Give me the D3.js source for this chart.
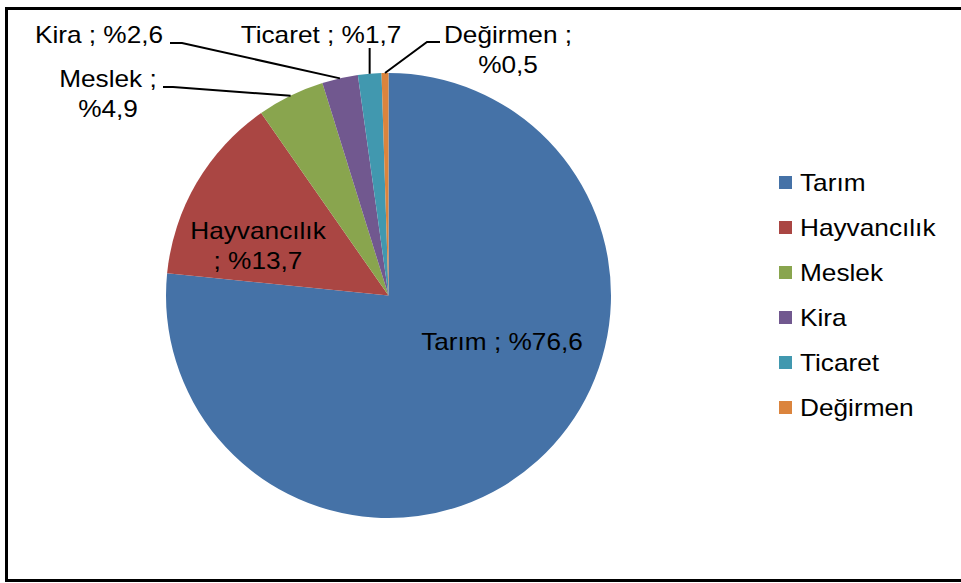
<!DOCTYPE html>
<html>
<head>
<meta charset="utf-8">
<script src="https://cdn.jsdelivr.net/npm/d3@7/dist/d3.min.js"></script>
<style type="text/css">
  body{
    margin: 0px;
    background: white;
  }
  text{
    font-family: 'Liberation Sans', Arial, sans-serif;
    font-size: 23px;
    fill: black;
  }
</style>
</head>
<body>

<svg id="chart" width="961" height="583"></svg>

<script>

// data
var categories = ["Tarım", "Hayvancılık", "Meslek", "Kira", "Ticaret", "Değirmen"];
var shares = [76.6, 13.7, 4.9, 2.6, 1.7, 0.5];
var shareLabels = ["%76,6", "%13,7", "%4,9", "%2,6", "%1,7", "%0,5"];
var colors = ["#4572A7", "#AA4643", "#89A54E", "#71588F", "#4198AF", "#DB843D"];

// label layout (lines of text, centre x, first baseline, leader elbow / end)
var labelLayout = [
  { lines: function(c, p) { return [c + " ; " + p]; }, x: 502, y: 350 },
  { lines: function(c, p) { return [c, "; " + p]; }, x: 258, y: 239 },
  { lines: function(c, p) { return [c + " ;", p]; }, x: 108, y: 87, leader: [[173, 87], [163, 87]] },
  { lines: function(c, p) { return [c + " ; " + p]; }, x: 99, y: 43, leader: [[182, 43], [170, 43]] },
  { lines: function(c, p) { return [c + " ; " + p]; }, x: 321, y: 43, leader: "vertical", top: 48 },
  { lines: function(c, p) { return [c + " ;", p]; }, x: 508, y: 43, leader: [[427, 42], [440, 42]] }
];

var stretch = 1.14;   // text in the picture is wider than Arial
var lineHeight = 30;

var svg = d3.select("#chart");

// outer frame
svg.append("rect")
  .attr("x", 6.5)
  .attr("y", 8.5)
  .attr("width", 970)
  .attr("height", 572)
  .attr("fill", "none")
  .attr("stroke", "black")
  .attr("stroke-width", 3);

var cx = 388.5, cy = 295.5, radius = 222.5;

var pie = d3.pie().sort(null).value(function(d) { return d; });
var arcs = pie(shares);

var arc = d3.arc().innerRadius(0).outerRadius(radius);
var edge = d3.arc().innerRadius(radius).outerRadius(radius);

var g = svg.append("g").attr("transform", "translate(" + cx + "," + cy + ")");

g.selectAll("path.slice")
  .data(arcs)
  .enter()
  .append("path")
  .attr("class", "slice")
  .attr("d", arc)
  .attr("fill", function(d, i) { return colors[i]; });

// leader lines
arcs.forEach(function(d, i) {
  var lay = labelLayout[i];
  if (!lay.leader) return;
  var p = edge.centroid(d);
  var pts;
  if (lay.leader === "vertical") {
    pts = [[p[0] + cx, p[1] + cy], [p[0] + cx, lay.top]];
  } else {
    pts = [[p[0] + cx, p[1] + cy]].concat(lay.leader);
  }
  svg.append("path")
    .attr("d", d3.line()(pts))
    .attr("fill", "none")
    .attr("stroke", "black")
    .attr("stroke-width", 2);
});

// data labels
categories.forEach(function(c, i) {
  var lay = labelLayout[i];
  var lines = lay.lines(c, shareLabels[i]);
  lines.forEach(function(t, j) {
    svg.append("text")
      .attr("transform", "translate(" + lay.x + "," + (lay.y + j * lineHeight) + ") scale(" + stretch + ",1)")
      .attr("text-anchor", "middle")
      .text(t);
  });
});

// legend
var legend = svg.append("g").attr("transform", "translate(779,183)");

var item = legend.selectAll("g.item")
  .data(categories)
  .enter()
  .append("g")
  .attr("class", "item")
  .attr("transform", function(d, i) { return "translate(0," + (i * 45) + ")"; });

item.append("rect")
  .attr("x", 0)
  .attr("y", -7)
  .attr("width", 13)
  .attr("height", 13)
  .attr("fill", function(d, i) { return colors[i]; });

item.append("text")
  .attr("transform", "translate(21,8) scale(" + stretch + ",1)")
  .text(function(d) { return d; });

</script>

</body>
</html>
